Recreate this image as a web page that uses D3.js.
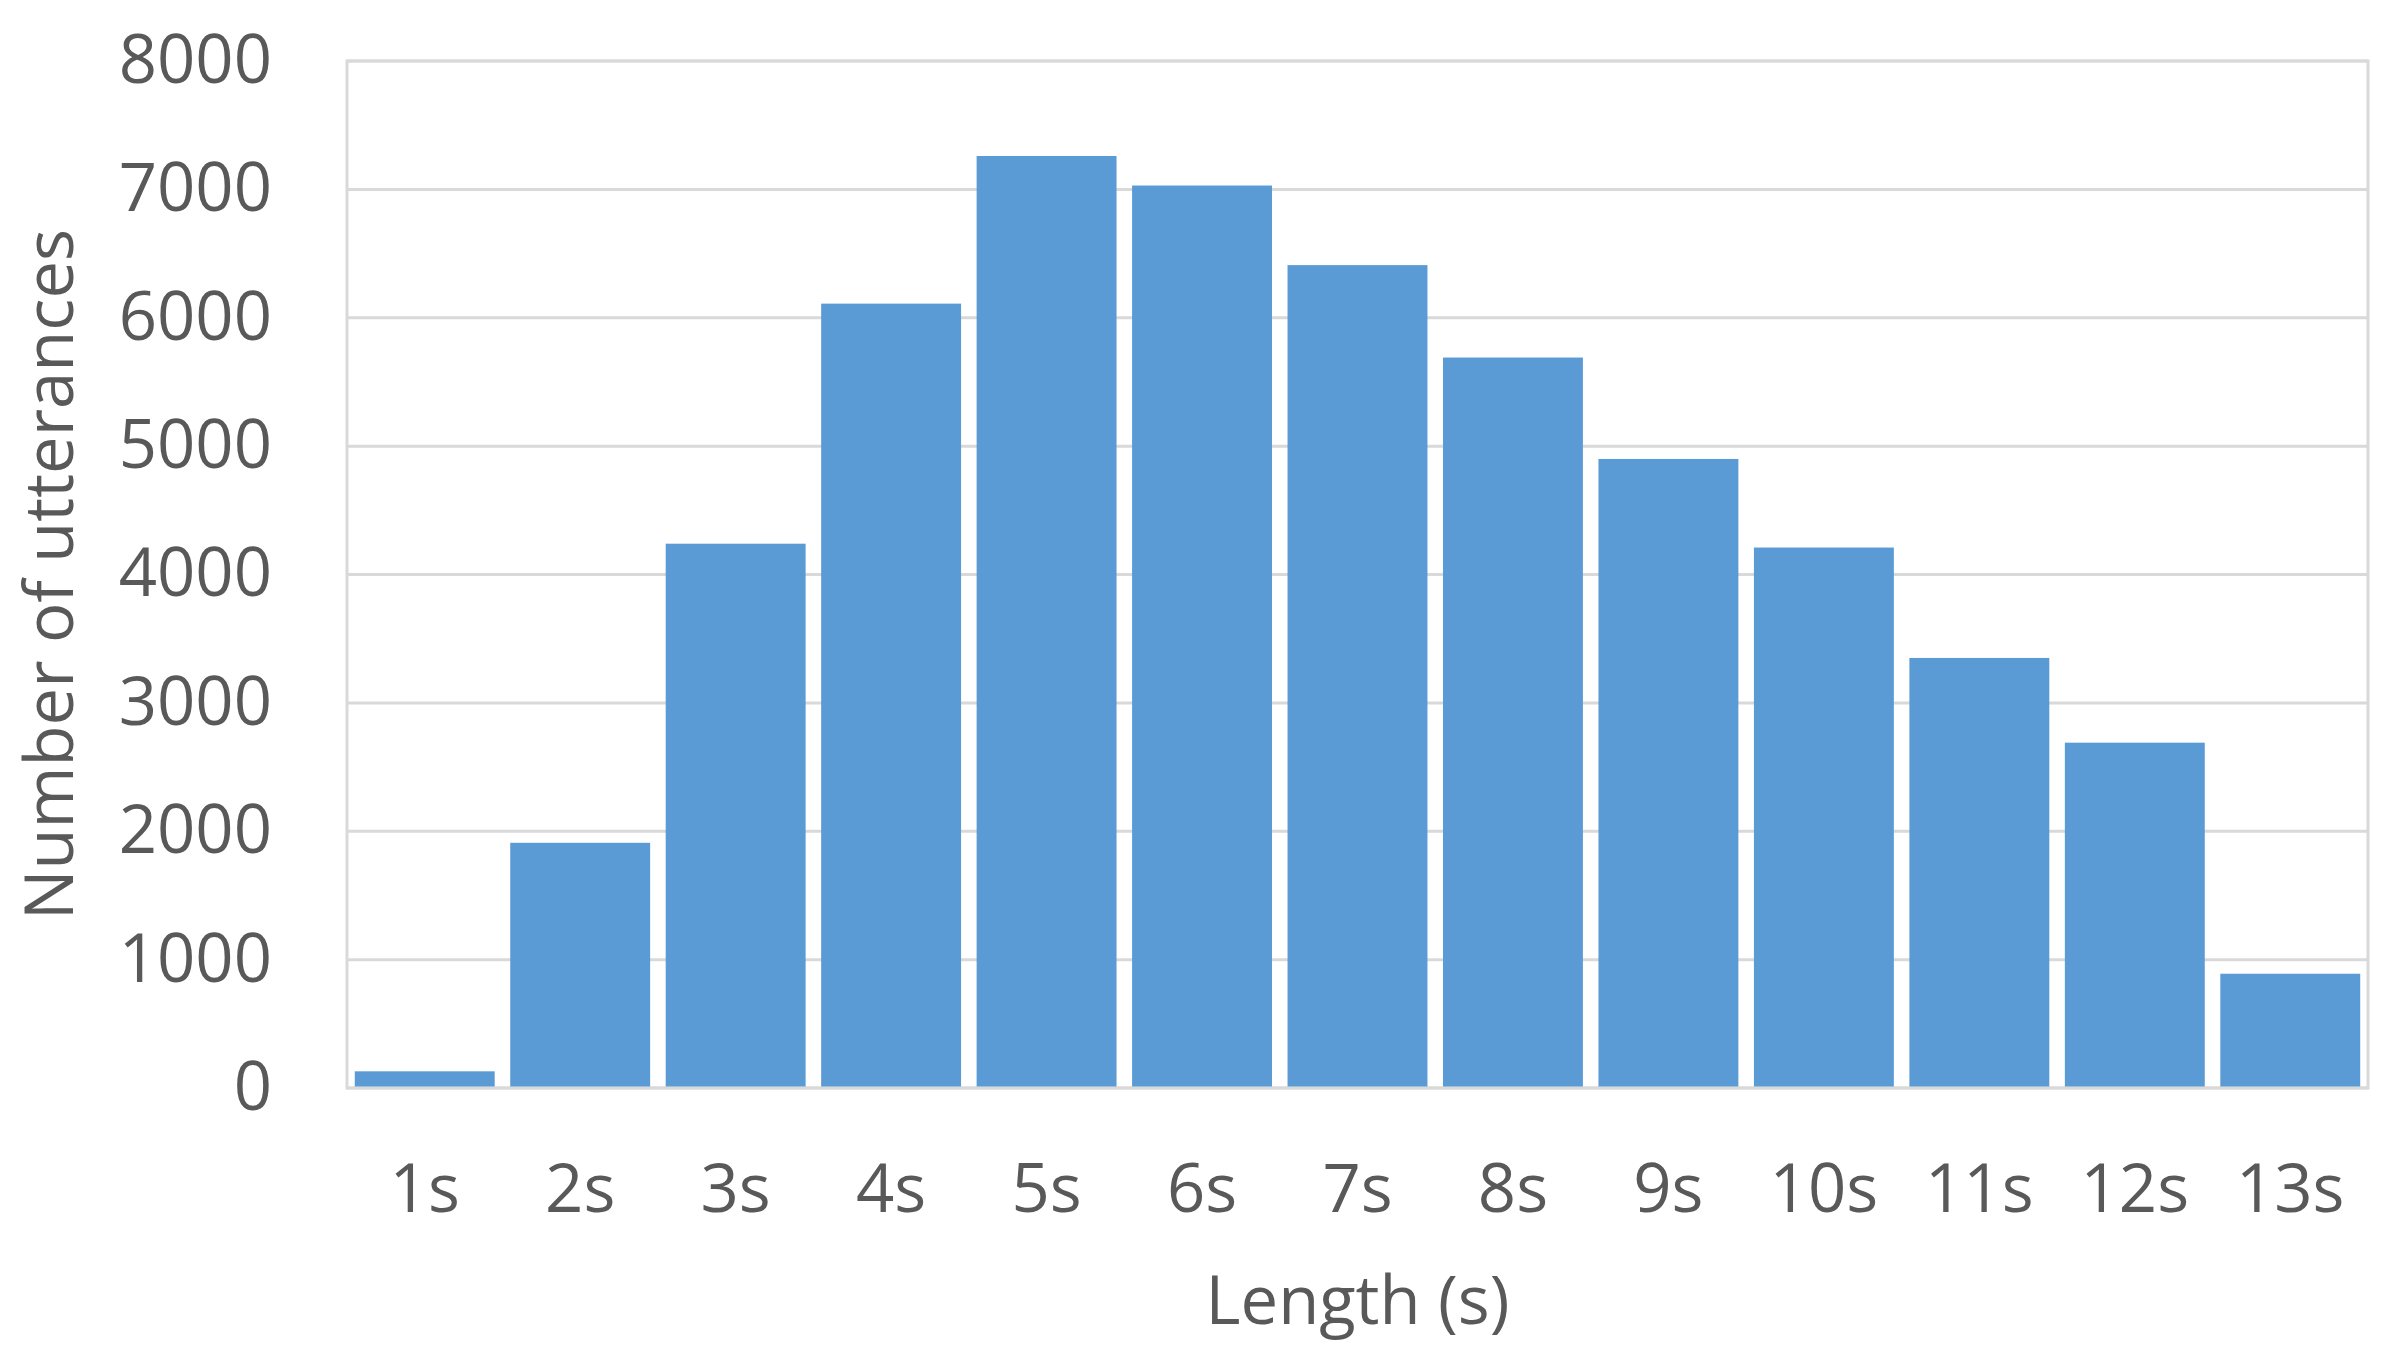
<!DOCTYPE html>
<meta charset="utf-8">
<style>
  body { margin: 0; background: #fff; }
  text { font-family: "Open Sans", "DejaVu Sans", sans-serif; fill: #595959; }
</style>
<body>
<svg id="chart" width="2400" height="1353"></svg>
<script src="https://d3js.org/d3.v7.min.js"></script>
<script>
  const categories = ["1s", "2s", "3s", "4s", "5s", "6s", "7s", "8s", "9s", "10s", "11s", "12s", "13s"];
  const counts = [130, 1910, 4240, 6110, 7260, 7030, 6410, 5690, 4900, 4210, 3350, 2690, 890];
  const yTicks = [0, 1000, 2000, 3000, 4000, 5000, 6000, 7000, 8000];

  const svg = d3.select("#chart");
  const margin = { top: 61, right: 32, bottom: 265, left: 347 };
  const width = 2400 - margin.left - margin.right,
    height = 1353 - margin.top - margin.bottom;

  const g = svg.append("g").attr("transform", `translate(${margin.left},${margin.top})`);

  const x = d3.scaleBand()
    .domain(categories)
    .range([0, width])
    .paddingInner(0.1)
    .paddingOuter(0.05);

  const y = d3.scaleLinear()
    .domain([0, 8000])
    .range([height, 0]);

  // gridlines
  g.selectAll("line.grid")
    .data(yTicks)
    .enter().append("line")
    .attr("class", "grid")
    .attr("x1", 0).attr("x2", width)
    .attr("y1", d => y(d)).attr("y2", d => y(d))
    .attr("stroke", "#d9d9d9")
    .attr("stroke-width", 3);

  // plot border
  g.append("rect")
    .attr("x", 0).attr("y", 0)
    .attr("width", width).attr("height", height)
    .attr("fill", "none")
    .attr("stroke", "#d9d9d9")
    .attr("stroke-width", 3);

  // bars
  g.selectAll("rect.bar")
    .data(counts)
    .enter().append("rect")
    .attr("class", "bar")
    .attr("x", (d, i) => x(categories[i]))
    .attr("width", x.bandwidth())
    .attr("y", d => y(d))
    .attr("height", d => y(0) - y(d) - 1.5)
    .attr("fill", "#5b9bd5");

  // y axis labels
  const yAxis = d3.axisLeft(y).tickValues(yTicks).tickFormat(d3.format("d")).tickSize(0).tickPadding(75);
  g.append("g").call(yAxis)
    .call(a => a.select(".domain").remove())
    .selectAll("text")
    .style("font-size", "67px")
    .attr("fill", "#595959");

  // x axis labels
  const xAxis = d3.axisBottom(x).tickSize(0).tickPadding(76);
  g.append("g").attr("transform", `translate(0,${height})`).call(xAxis)
    .call(a => a.select(".domain").remove())
    .selectAll("text")
    .style("font-size", "67px")
    .attr("fill", "#595959");

  // axis titles
  svg.append("text")
    .attr("x", margin.left + width / 2)
    .attr("y", 1301)
    .attr("text-anchor", "middle")
    .attr("dy", "0.35em")
    .style("font-size", "67px")
    .text("Length (s)");

  svg.append("text")
    .attr("transform", `translate(50,${margin.top + height / 2}) rotate(-90)`)
    .attr("text-anchor", "middle")
    .attr("dy", "0.35em")
    .style("font-size", "67px")
    .text("Number of utterances");
</script>
</body>
